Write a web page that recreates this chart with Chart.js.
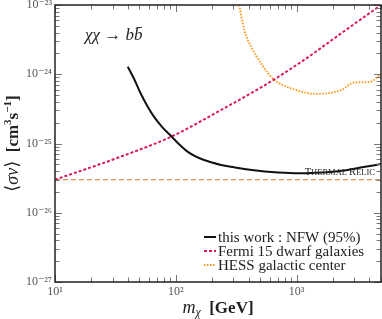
<!DOCTYPE html>
<html>
<head>
<meta charset="utf-8">
<script src="https://cdn.jsdelivr.net/npm/chart.js@4.4.1/dist/chart.umd.min.js"></script>
<style>
  html, body { margin: 0; padding: 0; background: #fff; }
  #wrap { width: 382px; height: 319px; position: relative; }
</style>
</head>
<body>
<div id="wrap"><canvas id="chart"></canvas></div>
<script>
// --- DATA ---
const nfwMass   = [40, 44.9, 51.1, 58.1, 65.9, 77.5, 92.6, 106.5, 125, 147, 172, 202, 237, 304, 383, 482, 619, 794, 1100, 1616, 2371, 3480, 5000];
const nfwSigma  = [1.285e-24, 8.74e-25, 5.31e-25, 3.48e-25, 2.44e-25, 1.71e-25, 1.25e-25, 9.74e-26, 7.62e-26, 6.45e-26,
                   5.78e-26, 5.28e-26, 4.89e-26, 4.53e-26, 4.25e-26, 4.05e-26, 3.89e-26, 3.78e-26, 3.71e-26, 3.81e-26,
                   4.05e-26, 4.53e-26, 5.05e-26];

const fermiMass  = [10, 35, 93, 237, 515, 1100, 2370, 5000];
const fermiSigma = [3.0e-26, 6.45e-26, 1.27e-25, 3.05e-25, 6.55e-25, 1.52e-24, 3.96e-24, 1.0e-23];

const hessMass  = [335, 369, 422, 511, 643, 944, 1468, 2327, 3000, 3980, 5000];
const hessSigma = [1.0e-23, 4.35e-24, 2.48e-24, 1.41e-24, 8.5e-25, 6.1e-25, 5.2e-25, 5.9e-25, 7.6e-25, 7.7e-25, 1.0e-24];

const relicMass  = [10, 5000];
const relicSigma = [3e-26, 3e-26];

const seriesLabels = ["this work : NFW (95%)", "Fermi 15 dwarf galaxies", "HESS galactic center"];

const xTickValues = [10, 100, 1000];
const xTickLabels = ["10\u00B9", "10\u00B2", "10\u00B3"];
const yTickValues = [1e-27, 1e-26, 1e-25, 1e-24, 1e-23];
const yTickLabels = ["10\u207B\u00B2\u2077", "10\u207B\u00B2\u2076", "10\u207B\u00B2\u2075", "10\u207B\u00B2\u2074", "10\u207B\u00B2\u00B3"];

// --- Helpers ---
function pts(xs, ys) {
  return xs.map((x, i) => ({ x: x, y: ys[i] }));
}

function minorValues(min, max) {
  const out = [];
  for (let p = Math.floor(Math.log10(min)); p <= Math.ceil(Math.log10(max)); p++) {
    for (let k = 1; k < 10; k++) {
      const v = k * Math.pow(10, p);
      if (v >= min * 0.999 && v <= max * 1.001) out.push({ v: v, major: k === 1 });
    }
  }
  return out;
}

// draw a run of [text, font, dy] pieces starting at x
function drawRuns(ctx, runs, x, y) {
  runs.forEach(r => {
    ctx.font = r[1];
    ctx.fillText(r[0], x, y + (r[2] || 0));
    x += ctx.measureText(r[0]).width;
  });
}
function runsWidth(ctx, runs) {
  return runs.reduce((s, r) => { ctx.font = r[1]; return s + ctx.measureText(r[0]).width; }, 0);
}

const SERIF = '"Liberation Serif", "DejaVu Serif", serif';

// --- frame, inward ticks, texts, legend ---
const decor = {
  id: "decor",
  afterDraw(chart) {
    const { ctx, chartArea: a, scales } = chart;
    const xs = scales.x, ys = scales.y;
    ctx.save();

    // inward ticks on all four sides
    ctx.strokeStyle = "#777";
    ctx.lineWidth = 1;
    minorValues(xs.min, xs.max).forEach(t => {
      const px = Math.round(xs.getPixelForValue(t.v)) + 0.5;
      const len = t.major ? 7 : 4.5;
      ctx.beginPath();
      ctx.moveTo(px, a.bottom); ctx.lineTo(px, a.bottom - len);
      ctx.moveTo(px, a.top); ctx.lineTo(px, a.top + len);
      ctx.stroke();
    });
    minorValues(ys.min, ys.max).forEach(t => {
      const py = Math.round(ys.getPixelForValue(t.v)) + 0.5;
      const len = t.major ? 7 : 4.5;
      ctx.beginPath();
      ctx.moveTo(a.left, py); ctx.lineTo(a.left + len, py);
      ctx.moveTo(a.right, py); ctx.lineTo(a.right - len, py);
      ctx.stroke();
    });

    // frame
    ctx.strokeStyle = "#222";
    ctx.lineWidth = 1.5;
    ctx.strokeRect(a.left, a.top, a.right - a.left, a.bottom - a.top);

    ctx.fillStyle = "#222";
    ctx.textBaseline = "alphabetic";
    ctx.textAlign = "left";

    // process label
    drawRuns(ctx, [
      ["\u03C7\u03C7", "italic 17px " + SERIF],
      [" \u2192 ", "17px " + SERIF],
      ["b", "italic 17px " + SERIF],
      ["b\u0304", "italic 17px " + SERIF]
    ], a.left + 30, a.top + 35);

    // thermal relic label, small caps
    const relicY = ys.getPixelForValue(relicSigma[0]);
    const relicRuns = [
      ["T", "10.5px " + SERIF], ["HERMAL ", "8.5px " + SERIF],
      ["R", "10.5px " + SERIF], ["ELIC", "8.5px " + SERIF]
    ];
    ctx.fillStyle = "#2a2a2a";
    drawRuns(ctx, relicRuns, a.right - 6 - runsWidth(ctx, relicRuns), relicY - 5);

    // x axis title
    ctx.fillStyle = "#222";
    const xRuns = [
      ["m", "italic 18px " + SERIF],
      ["\u03C7", "italic 12px " + SERIF, 3],
      ["  [GeV]", "bold 17px " + SERIF]
    ];
    drawRuns(ctx, xRuns, (a.left + a.right) / 2 - runsWidth(ctx, xRuns) / 2, 313);

    // y axis title
    const yRuns = [
      ["\u27E8", "18px " + SERIF],
      ["\u03C3v", "italic 18px " + SERIF],
      ["\u27E9", "18px " + SERIF],
      ["  [cm", "bold 17px " + SERIF],
      ["3", "bold 11px " + SERIF, -7],
      ["s", "bold 17px " + SERIF],
      ["\u22121", "bold 11px " + SERIF, -7],
      ["]", "bold 17px " + SERIF]
    ];
    ctx.save();
    ctx.translate(18, (a.top + a.bottom) / 2);
    ctx.rotate(-Math.PI / 2);
    drawRuns(ctx, yRuns, -runsWidth(ctx, yRuns) / 2, 0);
    ctx.restore();

    // legend
    const lx = a.left + 149, ly = a.top + 232;
    chart.data.datasets.slice(0, 3).forEach((ds, i) => {
      const y = ly + i * 14;
      ctx.strokeStyle = ds.borderColor;
      ctx.lineWidth = 2;
      ctx.setLineDash(ds.borderDash || []);
      ctx.beginPath();
      ctx.moveTo(lx, y); ctx.lineTo(lx + 12, y);
      ctx.stroke();
      ctx.setLineDash([]);
      ctx.fillStyle = "#222";
      ctx.font = "15px " + SERIF;
      ctx.textBaseline = "middle";
      ctx.fillText(ds.label, lx + 14, y + 1);
    });

    ctx.restore();
  }
};

// --- CHART ---
const ctx = document.getElementById("chart").getContext("2d");
new Chart(ctx, {
  type: "line",
  data: {
    datasets: [
      {
        label: seriesLabels[0],
        data: pts(nfwMass, nfwSigma),
        borderColor: "#111",
        borderWidth: 2,
        cubicInterpolationMode: "monotone"
      },
      {
        label: seriesLabels[1],
        data: pts(fermiMass, fermiSigma),
        borderColor: "#d81b5a",
        borderWidth: 2,
        borderDash: [3, 2],
        cubicInterpolationMode: "monotone"
      },
      {
        label: seriesLabels[2],
        data: pts(hessMass, hessSigma),
        borderColor: "#ff9a1f",
        borderWidth: 2,
        borderDash: [1.5, 1.5],
        cubicInterpolationMode: "monotone"
      },
      {
        label: "thermal relic",
        data: pts(relicMass, relicSigma),
        borderColor: "#d9925a",
        borderWidth: 1.3,
        borderDash: [5, 3]
      }
    ]
  },
  options: {
    responsive: true,
    maintainAspectRatio: false,
    animation: false,
    elements: { point: { radius: 0 } },
    layout: { padding: { top: 5, right: 1, left: 0, bottom: 0 } },
    plugins: { legend: { display: false }, tooltip: { enabled: false } },
    scales: {
      x: {
        type: "logarithmic",
        min: 10,
        max: 5000,
        grid: { display: false, drawTicks: false },
        border: { display: false },
        afterBuildTicks: s => { s.ticks = xTickValues.map(v => ({ value: v })); },
        afterFit: s => { s.height = 37; s.paddingLeft = 0; s.paddingRight = 0; },
        ticks: {
          padding: 3,
          color: "#555",
          maxRotation: 0,
          autoSkip: false,
          font: { family: SERIF, size: 12 },
          callback: v => xTickLabels[xTickValues.indexOf(v)]
        }
      },
      y: {
        type: "logarithmic",
        min: 1e-27,
        max: 1e-23,
        grid: { display: false, drawTicks: false },
        border: { display: false },
        afterBuildTicks: s => { s.ticks = yTickValues.map(v => ({ value: v })); },
        afterFit: s => { s.width = 55; s.paddingTop = 0; s.paddingBottom = 0; },
        ticks: {
          padding: 3,
          color: "#555",
          autoSkip: false,
          font: { family: SERIF, size: 12 },
          callback: v => yTickLabels[yTickValues.indexOf(v)]
        }
      }
    }
  },
  plugins: [decor]
});
</script>
</body>
</html>
